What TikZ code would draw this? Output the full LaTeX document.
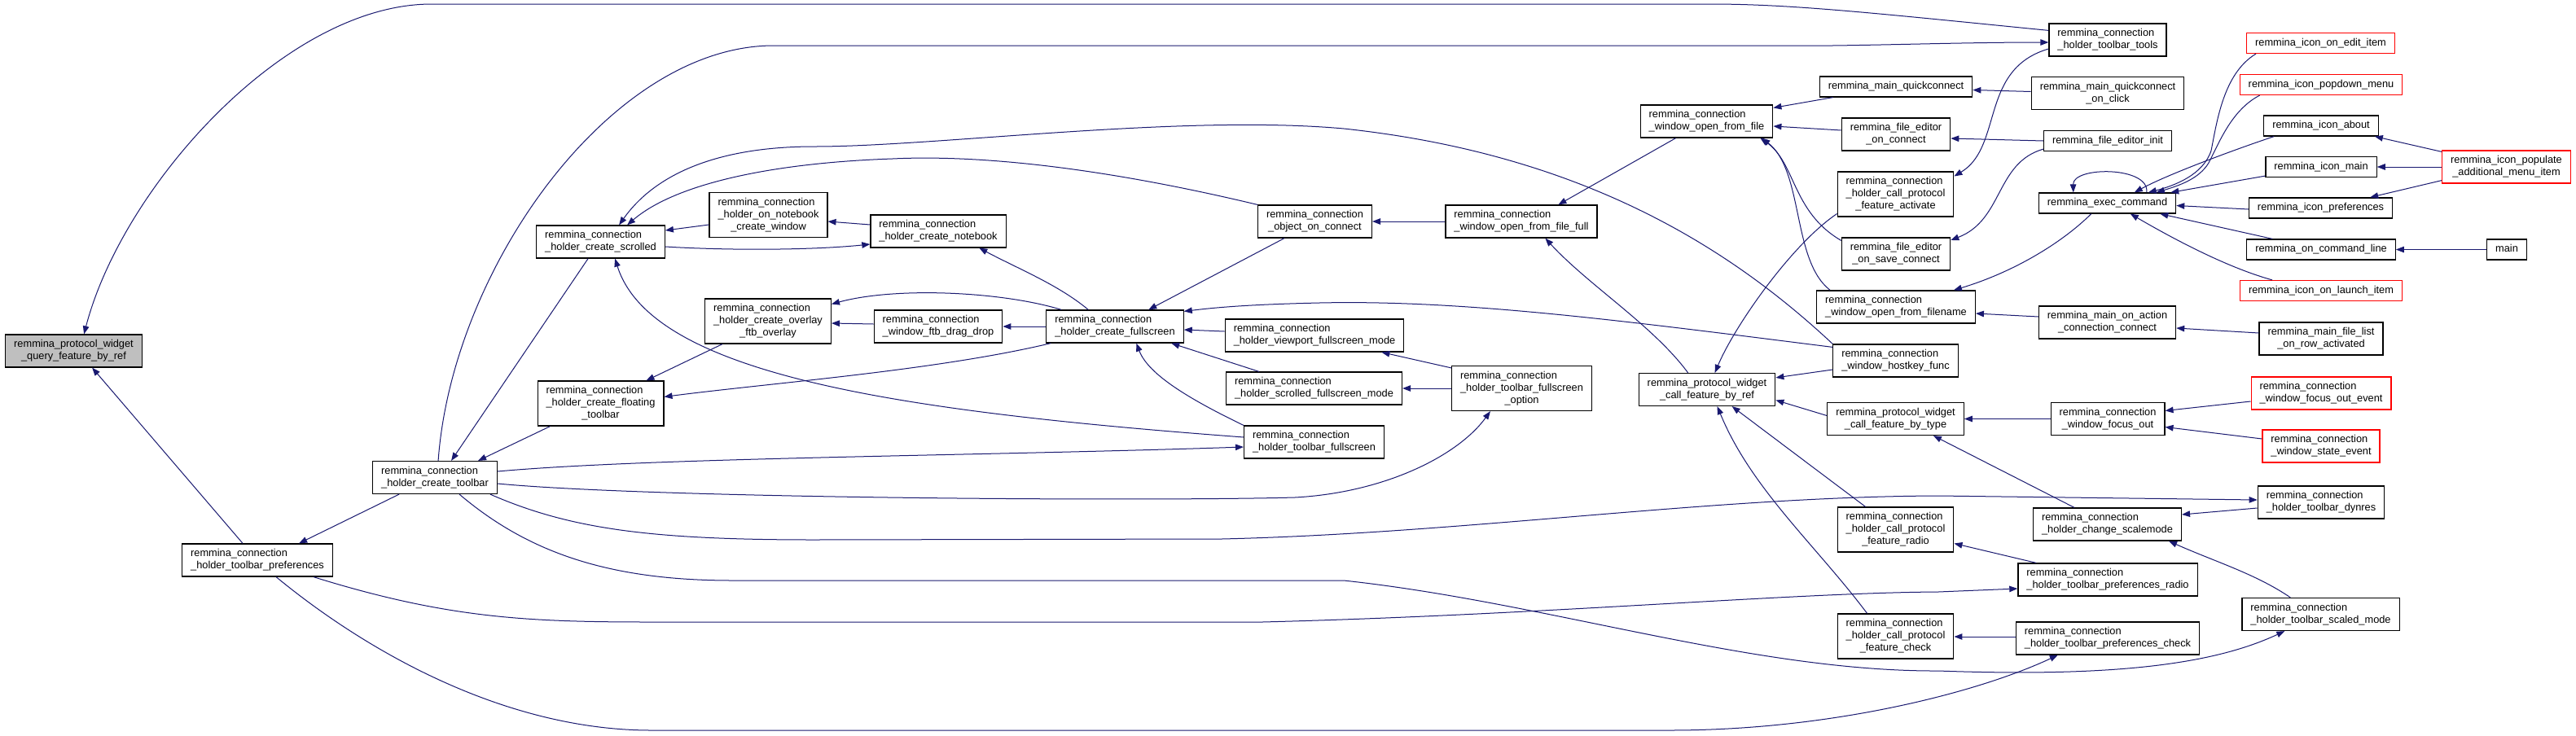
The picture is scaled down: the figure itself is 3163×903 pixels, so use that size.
\documentclass[tikz,border=0pt]{standalone}
\usepackage{fontspec}
\setmainfont{Liberation Sans}
\usetikzlibrary{arrows.meta,calc}
\definecolor{edgec}{HTML}{191970}
\newcommand{\lone}[1]{\begin{tabular}{@{}l@{}}#1\end{tabular}}
\newcommand{\ltwo}[2]{\begin{tabular}{@{}l@{}}#1\\\multicolumn{1}{@{}c@{}}{#2}\end{tabular}}
\newcommand{\lthree}[3]{\begin{tabular}{@{}l@{}}#1\\#2\\\multicolumn{1}{@{}c@{}}{#3}\end{tabular}}
\tikzset{
  box/.style={draw=black, line width=1.2pt, fill=white, inner xsep=10.5pt, inner ysep=5pt,
    font=\fontsize{12.8}{15}\selectfont},
  redbox/.style={box, draw=red},
  edg/.style={draw=edgec, line width=1pt, -{Triangle[length=10pt,width=7.5pt]}}
}
\begin{document}
\begin{tikzpicture}[x=1pt,y=-1pt]
\useasboundingbox[fill=white] (0,0) rectangle (3163,903);
% column 0-2
\node[box,fill=gray!50] (q) at (90.5,431) {\ltwo{remmina\_protocol\_widget}{\_query\_feature\_by\_ref}};
\node[box] (tp) at (316,688) {\ltwo{remmina\_connection}{\_holder\_toolbar\_preferences}};
\node[box] (ct) at (534,586.5) {\ltwo{remmina\_connection}{\_holder\_create\_toolbar}};
\node[box] (scr) at (737.5,297) {\ltwo{remmina\_connection}{\_holder\_create\_scrolled}};
\node[box] (fl) at (737.5,495.5) {\lthree{remmina\_connection}{\_holder\_create\_floating}{\_toolbar}};
\node[box] (onb) at (943.5,264) {\lthree{remmina\_connection}{\_holder\_on\_notebook}{\_create\_window}};
\node[box] (nb) at (1152,284) {\ltwo{remmina\_connection}{\_holder\_create\_notebook}};
\node[box] (ov) at (943,394.5) {\lthree{remmina\_connection}{\_holder\_create\_overlay}{\_ftb\_overlay}};
\node[box] (dd) at (1152,401) {\ltwo{remmina\_connection}{\_window\_ftb\_drag\_drop}};
\node[box] (fs) at (1369,401) {\ltwo{remmina\_connection}{\_holder\_create\_fullscreen}};
\node[box] (oc) at (1614.5,272) {\ltwo{remmina\_connection}{\_object\_on\_connect}};
\node[box] (vp) at (1614,412) {\ltwo{remmina\_connection}{\_holder\_viewport\_fullscreen\_mode}};
\node[box] (sfm) at (1613.5,477) {\ltwo{remmina\_connection}{\_holder\_scrolled\_fullscreen\_mode}};
\node[box] (tf) at (1613.5,543) {\ltwo{remmina\_connection}{\_holder\_toolbar\_fullscreen}};
\node[box] (opt) at (1868.5,477) {\lthree{remmina\_connection}{\_holder\_toolbar\_fullscreen}{\_option}};
\node[box] (off) at (1868,272) {\ltwo{remmina\_connection}{\_window\_open\_from\_file\_full}};
\node[box] (of) at (2095.5,149) {\ltwo{remmina\_connection}{\_window\_open\_from\_file}};
\node[box] (cbr) at (2096,478.5) {\ltwo{remmina\_protocol\_widget}{\_call\_feature\_by\_ref}};
% column 5
\node[box] (mqc) at (2328,106.5) {\lone{remmina\_main\_quickconnect}};
\node[box] (feoc) at (2328,165) {\ltwo{remmina\_file\_editor}{\_on\_connect}};
\node[box] (act) at (2327.5,238.5) {\lthree{remmina\_connection}{\_holder\_call\_protocol}{\_feature\_activate}};
\node[box] (fesc) at (2328,312) {\ltwo{remmina\_file\_editor}{\_on\_save\_connect}};
\node[box] (ofn) at (2328,377) {\ltwo{remmina\_connection}{\_window\_open\_from\_filename}};
\node[box] (hk) at (2327.5,443) {\ltwo{remmina\_connection}{\_window\_hostkey\_func}};
\node[box] (cbt) at (2327.5,514.5) {\ltwo{remmina\_protocol\_widget}{\_call\_feature\_by\_type}};
\node[box] (rad) at (2327.5,650.5) {\lthree{remmina\_connection}{\_holder\_call\_protocol}{\_feature\_radio}};
\node[box] (chk) at (2327.5,781.5) {\lthree{remmina\_connection}{\_holder\_call\_protocol}{\_feature\_check}};
% column 6
\node[box] (tt) at (2588,49) {\ltwo{remmina\_connection}{\_holder\_toolbar\_tools}};
\node[box] (mqcc) at (2588,114.5) {\ltwo{remmina\_main\_quickconnect}{\_on\_click}};
\node[box] (fei) at (2588,173) {\lone{remmina\_file\_editor\_init}};
\node[box] (ec) at (2587.5,249.5) {\lone{remmina\_exec\_command}};
\node[box] (maoc) at (2587.5,396) {\ltwo{remmina\_main\_on\_action}{\_connection\_connect}};
\node[box] (fo) at (2588,514.5) {\ltwo{remmina\_connection}{\_window\_focus\_out}};
\node[box] (cs) at (2587.5,644) {\ltwo{remmina\_connection}{\_holder\_change\_scalemode}};
\node[box] (tpr) at (2588,712) {\ltwo{remmina\_connection}{\_holder\_toolbar\_preferences\_radio}};
\node[box] (tpc) at (2588,784) {\ltwo{remmina\_connection}{\_holder\_toolbar\_preferences\_check}};
% column 7
\node[redbox] (ioe) at (2849.5,53) {\lone{remmina\_icon\_on\_edit\_item}};
\node[redbox] (ipm) at (2850,104) {\lone{remmina\_icon\_popdown\_menu}};
\node[box] (ia) at (2850,154.5) {\lone{remmina\_icon\_about}};
\node[box] (im) at (2850,205) {\lone{remmina\_icon\_main}};
\node[box] (ip) at (2849.5,255.5) {\lone{remmina\_icon\_preferences}};
\node[box] (ocl) at (2850,306.5) {\lone{remmina\_on\_command\_line}};
\node[redbox] (ioli) at (2850,357) {\lone{remmina\_icon\_on\_launch\_item}};
\node[box] (flrow) at (2850,416) {\ltwo{remmina\_main\_file\_list}{\_on\_row\_activated}};
\node[redbox] (foe) at (2850,483) {\ltwo{remmina\_connection}{\_window\_focus\_out\_event}};
\node[redbox] (se) at (2850,548) {\ltwo{remmina\_connection}{\_window\_state\_event}};
\node[box] (dyn) at (2850,617) {\ltwo{remmina\_connection}{\_holder\_toolbar\_dynres}};
\node[box] (sm) at (2849.5,754.5) {\ltwo{remmina\_connection}{\_holder\_toolbar\_scaled\_mode}};
% column 8
\node[redbox] (pop) at (3077.5,205) {\ltwo{remmina\_icon\_populate}{\_additional\_menu\_item}};
\node[box] (main) at (3078,306.5) {\lone{main}};
% edges
\draw[edg] ($(tt.north west)+(0,9)$) .. controls (2300,16) and (2200,5) .. (2100,5) -- (530,5) .. controls (350,5) and (150,230) .. ($(q.north west)+(97,0)$);
\draw[edg] ($(ct.north west)+(81,0)$) .. controls (555,330) and (750,56) .. (950,56) -- (2250,56) .. controls (2330,55) and (2420,52) .. ($(tt.west)+(0,3)$);
\draw[edg] ($(tp.north west)+(75,0)$) -- ($(q.south west)+(107,0)$);
\draw[edg] ($(ct.south west)+(33,0)$) -- ($(tp.north west)+(144,0)$);
\draw[edg] ($(scr.south west)+(64,0)$) -- ($(ct.north west)+(97,0)$);
\draw[edg] ($(fl.south west)+(16,0)$) -- ($(ct.north west)+(130,0)$);
\draw[edg] ($(ov.south west)+(22,0)$) -- ($(fl.north east)+(-22,0)$);
\draw[edg] ($(fs.south west)+(6,0)$) .. controls (1150,455) and (950,470) .. ($(fl.north east)+(0,20)$);
\draw[edg] ($(tf.west)+(0,-6)$) .. controls (1100,505) and (800,460) .. ($(scr.south west)+(97,0)$);
\draw[edg] ($(ct.east)+(0,-7.5)$) .. controls (800,562) and (1200,560) .. ($(tf.west)+(0,6)$);
\draw[edg] ($(ct.east)+(0,7.5)$) .. controls (800,612) and (1400,616) .. (1590,611) .. controls (1700,605) and (1790,560) .. ($(opt.south west)+(48,0)$);
\draw[edg] ($(ct.south east)+(-9,0)$) .. controls (700,650) and (800,663) .. (1000,663) -- (1500,662) .. controls (1800,655) and (2100,610) .. (2380,609) -- ($(dyn.west)+(0,-3)$);
\draw[edg] ($(ct.south west)+(107,0)$) .. controls (650,680) and (750,713) .. (900,713) -- (1650,713) .. controls (1900,740) and (2150,825) .. (2380,824) .. controls (2600,832) and (2720,815) .. ($(sm.south west)+(53,0)$);
\draw[edg] ($(tp.south east)+(-24,0)$) .. controls (550,760) and (650,764) .. (800,764) -- (1550,764) .. controls (1900,755) and (2200,728) .. (2380,727) -- ($(tpr.west)+(0,11)$);
\draw[edg] ($(tp.south west)+(116,0)$) .. controls (450,800) and (620,897) .. (800,897) -- (2050,897) .. controls (2250,897) and (2430,850) .. ($(tpc.south west)+(52,0)$);
\draw[edg] ($(onb.west)+(0,12)$) -- ($(scr.east)+(0,-14)$);
\draw[edg] ($(nb.west)+(0,-8)$) -- ($(onb.east)+(0,8)$);
\draw[edg] ($(scr.east)+(0,6)$) .. controls (900,308) and (1000,307) .. ($(nb.west)+(0,16)$);
\draw[edg] ($(fs.north west)+(52,0)$) .. controls (1300,350) and (1250,330) .. ($(nb.south west)+(134,0)$);
\draw[edg] ($(oc.south west)+(33,0)$) -- ($(fs.north west)+(126,0)$);
\draw[edg] ($(fs.north west)+(19,0)$) .. controls (1230,358) and (1100,352) .. ($(ov.east)+(0,-21)$);
\draw[edg] ($(dd.west)+(0,-3)$) -- ($(ov.east)+(0,2.5)$);
\draw[edg] (fs.west) -- (dd.east);
\draw[edg] ($(vp.west)+(0,-5)$) -- ($(fs.east)+(0,4)$);
\draw[edg] ($(hk.north west)+(0,4)$) .. controls (2000,395) and (1800,368) .. (1620,372) .. controls (1530,374) and (1490,378) .. ($(fs.north east)+(0,2)$);
\draw[edg] (hk.north west) .. controls (2130,310) and (1950,190) .. (1650,158) .. controls (1450,140) and (1150,180) .. (1000,180) .. controls (870,180) and (800,220) .. ($(scr.north west)+(102,0)$);
\draw[edg] (oc.north west) .. controls (1350,205) and (1200,190) .. (1096,195) .. controls (950,200) and (830,225) .. ($(scr.north west)+(112,0)$);
\draw[edg] (tf.north west) .. controls (1460,490) and (1410,460) .. ($(fs.south west)+(111,0)$);
\draw[edg] ($(sfm.north west)+(41,0)$) -- ($(fs.south west)+(154,0)$);
\draw[edg] ($(opt.north west)+(0,3)$) -- ($(vp.south east)+(-28,0)$);
\draw[edg] (opt.west) -- (sfm.east);
\draw[edg] (off.west) -- (oc.east);
\draw[edg] ($(of.south west)+(44,0)$) -- ($(off.north west)+(139,0)$);
\draw[edg] ($(cbr.north west)+(61,0)$) .. controls (2030,400) and (1950,350) .. ($(off.south west)+(123,0)$);
\draw[edg] ($(mqc.south west)+(17,0)$) -- ($(of.north east)+(0,4)$);
\draw[edg] ($(feoc.west)+(0,-5)$) -- ($(of.east)+(0,6)$);
\draw[edg] ($(fesc.north west)+(0,4)$) .. controls (2200,260) and (2205,200) .. ($(of.south east)+(-16,0)$);
\draw[edg] ($(ofn.north west)+(17,0)$) .. controls (2200,320) and (2215,210) .. ($(of.south east)+(-14,0)$);
\draw[edg] ($(act.west)+(0,24)$) .. controls (2200,300) and (2130,400) .. ($(cbr.north west)+(94,0)$);
\draw[edg] ($(hk.west)+(0,11)$) -- ($(cbr.north east)+(0,6)$);
\draw[edg] ($(cbt.west)+(0,-4)$) -- ($(cbr.east)+(0,13)$);
\draw[edg] ($(rad.north west)+(35,0)$) -- ($(cbr.south west)+(115,0)$);
\draw[edg] ($(chk.north west)+(37,0)$) .. controls (2230,670) and (2150,600) .. ($(cbr.south west)+(97,0)$);
\draw[edg] ($(tt.west)+(0,11)$) .. controls (2430,85) and (2460,180) .. ($(act.east)+(0,-22)$);
\draw[edg] ($(mqcc.west)+(0,-2)$) -- ($(mqc.east)+(0,4)$);
\draw[edg] (fei.west) -- ($(feoc.east)+(0,5)$);
\draw[edg] ($(fei.south west)+(0,-3)$) .. controls (2450,200) and (2460,270) .. ($(fesc.east)+(0,-17)$);
\draw[edg] ($(ec.south west)+(65,0)$) .. controls (2530,300) and (2470,335) .. ($(ofn.north east)+(-27,0)$);
\draw[edg] ($(maoc.west)+(0,-7)$) -- ($(ofn.east)+(0,8)$);
\draw[edg] ($(flrow.west)+(0,-7)$) -- ($(maoc.east)+(0,7)$);
\draw[edg] ($(ec.north west)+(133,0)$) .. controls (2640,204) and (2545,204) .. ($(ec.north west)+(43,0)$);
\draw[edg] ($(ioe.south west)+(12,0)$) .. controls (2730,90) and (2722,150) .. (2715,185) .. controls (2705,215) and (2670,228) .. ($(ec.north west)+(135,0)$);
\draw[edg] ($(ipm.south west)+(25,0)$) .. controls (2740,135) and (2725,175) .. (2712,200) .. controls (2700,220) and (2675,228) .. ($(ec.north west)+(145,0)$);
\draw[edg] ($(ia.south west)+(13,0)$) .. controls (2740,185) and (2660,215) .. ($(ec.north west)+(118,0)$);
\draw[edg] ($(im.south west)+(0,-2)$) -- ($(ec.north east)+(-7,0)$);
\draw[edg] ($(ip.west)+(0,1.5)$) -- ($(ec.east)+(0,3)$);
\draw[edg] ($(ocl.north west)+(32,0)$) -- ($(ec.south east)+(-20,0)$);
\draw[edg] ($(ioli.north west)+(40,0)$) .. controls (2740,330) and (2680,300) .. ($(ec.south west)+(113,0)$);
\draw[edg] ($(pop.north west)+(0,2)$) -- ($(ia.south east)+(-5,0)$);
\draw[edg] (pop.west) -- (im.east);
\draw[edg] ($(pop.south west)+(0,-4)$) -- ($(ip.north east)+(-28,0)$);
\draw[edg] (main.west) -- (ocl.east);
\draw[edg] (fo.west) -- (cbt.east);
\draw[edg] ($(foe.west)+(0,10)$) -- ($(fo.east)+(0,-10)$);
\draw[edg] ($(se.west)+(0,-9)$) -- ($(fo.east)+(0,10)$);
\draw[edg] ($(cs.north west)+(51,0)$) -- ($(cbt.south east)+(-38,0)$);
\draw[edg] ($(dyn.west)+(0,7)$) -- ($(cs.east)+(0,-12)$);
\draw[edg] ($(sm.north west)+(60,0)$) .. controls (2770,705) and (2720,690) .. ($(cs.south east)+(-16,0)$);
\draw[edg] ($(tpr.north west)+(23,0)$) -- ($(rad.east)+(0,17)$);
\draw[edg] ($(tpc.west)+(0,-2)$) -- ($(chk.east)+(0,0.5)$);
\end{tikzpicture}
\end{document}
